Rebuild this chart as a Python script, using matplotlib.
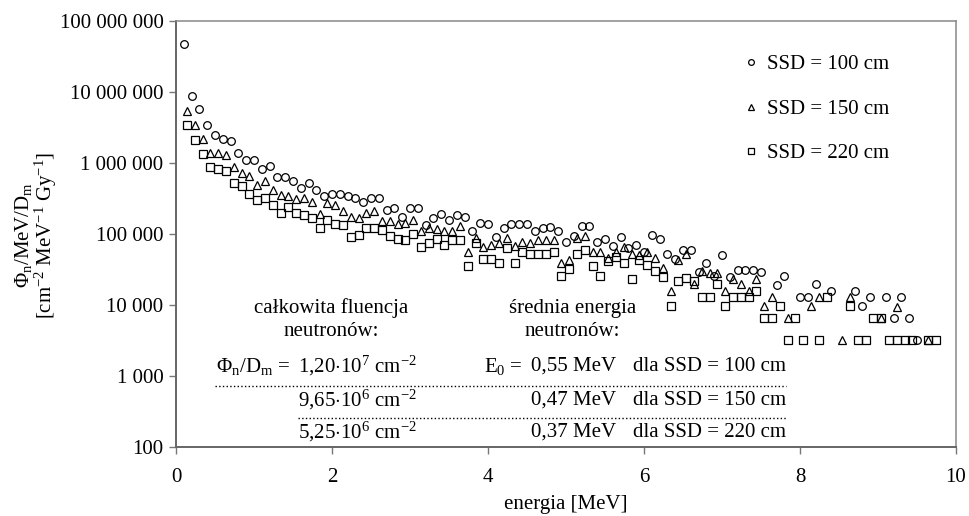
import numpy as np
import matplotlib
matplotlib.use('Agg')
import matplotlib.pyplot as plt
from matplotlib.ticker import FuncFormatter, FixedLocator

plt.rcParams['font.family'] = ['Liberation Serif', 'DejaVu Serif']
plt.rcParams['mathtext.fontset'] = 'custom'
plt.rcParams['mathtext.rm'] = 'Liberation Serif'
plt.rcParams['mathtext.it'] = 'Liberation Serif:italic'
plt.rcParams['font.size'] = 15

# energy bins [MeV], 0.1 ... 9.8
energy = np.round(np.arange(1, 99) * 0.1, 1)

# fluence per MeV per unit dose, SSD = 100 cm
ssd100 = [
    4.8e7, 8.8e6, 5.7e6, 3.4e6, 2.45e6, 2.2e6, 2.05e6, 1.4e6, 1.1e6, 1.1e6,
    8.3e5, 9.1e5, 6.4e5, 6.4e5, 5.5e5, 4.5e5, 5.2e5, 4.1e5, 3.4e5, 3.7e5,
    3.7e5, 3.4e5, 3.2e5, 2.8e5, 3.2e5, 3.2e5, 2.2e5, 2.3e5, 1.75e5, 2.3e5,
    2.3e5, 1.34e5, 1.7e5, 1.9e5, 1.6e5, 1.85e5, 1.75e5, 1.1e5, 1.45e5, 1.4e5,
    9.2e4, 1.2e5, 1.38e5, 1.38e5, 1.38e5, 1.1e5, 1.2e5, 1.25e5, 1.1e5, 7.8e4,
    9.5e4, 1.28e5, 1.28e5, 7.7e4, 8.6e4, 6.8e4, 9.0e4, 6.3e4, 7.0e4, 5.5e4,
    9.7e4, 8.4e4, 5.3e4, 4.4e4, 5.9e4, 6.0e4, 2.9e4, 3.9e4, 2.6e4, 5.1e4,
    2.5e4, 3.1e4, 3.1e4, 3.1e4, 2.9e4, None, 1.9e4, 2.6e4, None, 1.3e4,
    1.3e4, 1.95e4, None, 1.6e4, None, None, 1.6e4, 9.7e3, 1.3e4, None,
    1.3e4, 6.5e3, 1.3e4, 6.5e3, 3.2e3, None, None, None]

# SSD = 150 cm
ssd150 = [
    5.4e6, 3.4e6, 2.15e6, 1.37e6, 1.4e6, 1.3e6, 8.9e5, 7.2e5, 6.6e5, 4.9e5,
    5.6e5, 4.1e5, 3.5e5, 3.4e5, 3.1e5, 3.2e5, 2.8e5, 1.9e5, 2.7e5, 2.6e5,
    2.1e5, 1.75e5, 1.7e5, 2.0e5, 2.1e5, 1.5e5, 1.5e5, 1.4e5, 1.45e5, 1.55e5,
    1.1e5, 1.2e5, 1.18e5, 1.12e5, 1.12e5, 1.28e5, 5.6e4, 8.7e4, 6.6e4, 7.0e4,
    7.4e4, 8.7e4, 6.8e4, 7.8e4, 7.4e4, 8.3e4, 8.3e4, 8.3e4, 3.9e4, 4.3e4,
    8.7e4, 9.3e4, 5.5e4, 5.5e4, 4.6e4, 5.6e4, 6.6e4, 5.3e4, 5.0e4, 5.5e4,
    4.6e4, 3.3e4, 1.55e4, 4.3e4, 5.3e4, 2.0e4, 3.0e4, 2.85e4, 2.8e4, 1.6e4,
    2.3e4, 2.0e4, 1.6e4, 2.3e4, 9.7e3, 1.3e4, None, 6.5e3, None, None,
    9.7e3, 1.3e4, None, None, 3.2e3, 1.3e4, None, None, None, 6.5e3,
    None, 9.5e3, None, None, None, 3.2e3, None, None]

# SSD = 220 cm
ssd220 = [
    3.4e6, 2.1e6, 1.35e6, 8.7e5, 8.3e5, 7.6e5, 5.2e5, 4.7e5, 3.7e5, 3.0e5,
    3.2e5, 2.6e5, 2.0e5, 2.4e5, 2.0e5, 1.85e5, 1.7e5, 1.2e5, 1.55e5, 1.4e5,
    1.35e5, 9.2e4, 9.7e4, 1.2e5, 1.2e5, 1.15e5, 9.5e4, 8.5e4, 8.3e4, 1.0e5,
    6.6e4, 7.5e4, 8.5e4, 7.1e4, 8.3e4, 8.3e4, 3.5e4, 7.4e4, 4.4e4, 4.4e4,
    3.9e4, 6.3e4, 3.9e4, 5.6e4, 5.2e4, 5.2e4, 5.2e4, 5.6e4, 2.6e4, 3.2e4,
    5.3e4, 5.9e4, 3.5e4, 2.6e4, 4.1e4, 4.8e4, 3.9e4, 2.3e4, 4.3e4, 3.7e4,
    3.0e4, 2.5e4, 9.7e3, 2.2e4, 2.4e4, 2.2e4, 1.3e4, 1.3e4, 2.0e4, 9.7e3,
    1.3e4, 1.3e4, 1.3e4, 1.6e4, 6.5e3, 6.5e3, 9.7e3, 3.2e3, 6.5e3, 3.2e3,
    None, 3.2e3, 1.3e4, None, None, 9.7e3, 3.2e3, 3.2e3, 6.5e3, 6.5e3,
    3.2e3, 3.2e3, 3.2e3, 3.2e3, None, 3.2e3, 3.2e3, None]

labels = ['SSD = 100 cm', 'SSD = 150 cm', 'SSD = 220 cm']
markers = ['o', '^', 's']
yticks = [1e2, 1e3, 1e4, 1e5, 1e6, 1e7, 1e8]

fluence_rows = [r'1,20$\cdot$10$^{7}$ cm$^{-2}$',
                r'9,65$\cdot$10$^{6}$ cm$^{-2}$',
                r'5,25$\cdot$10$^{6}$ cm$^{-2}$']
mean_energy = ['0,55 MeV', '0,47 MeV', '0,37 MeV']
ssd_text = ['dla SSD = 100 cm', 'dla SSD = 150 cm', 'dla SSD = 220 cm']

fig = plt.figure(figsize=(9.69, 5.16), dpi=100)
ax = fig.add_axes([176 / 969, 1 - 447 / 516, 780 / 969, 426 / 516])

shift = [0.0, 0.04, 0.04]  # SSD 150/220 bins sit a hair right of SSD 100
sizes = [5.5, 6.0, 5.5]
for vals, m, lab, dx, ms in zip([ssd100, ssd150, ssd220], markers, labels, shift, sizes):
    y = np.array([np.nan if v is None else v for v in vals], dtype=float)
    ax.plot(energy + dx, y, ls='none', marker=m, ms=ms, mfc='none',
            mec='black', mew=0.9, label=lab)

ax.set_yscale('log')
ax.set_ylim(100, 1e8)
ax.set_xlim(0, 10)
ax.yaxis.set_major_locator(FixedLocator(yticks))
ax.yaxis.set_minor_locator(FixedLocator([]))
ax.yaxis.set_major_formatter(FuncFormatter(lambda v, p: f'{int(round(v)):,}'.replace(',', ' ')))
ax.set_xticks([0, 2, 4, 6, 8, 10])
ax.tick_params(axis='both', direction='out', length=5, width=1, color='#777777',
               labelsize=15, pad=4)
ax.tick_params(axis='x', pad=10)
for s in ax.spines.values():
    s.set_color('#888888')
    s.set_linewidth(1.1)
ax.spines['left'].set_color('#666666')
ax.spines['bottom'].set_color('#666666')
ax.spines['left'].set_linewidth(1.4)
ax.spines['bottom'].set_linewidth(1.4)

ax.set_xlabel('energia [MeV]', fontsize=15, labelpad=6)
fig.text(23 / 969, 1 - 235 / 516, r'Φ$_\mathrm{n}$/MeV/D$_\mathrm{m}$', rotation=90,
         ha='center', va='center', fontsize=15)
fig.text(46 / 969, 1 - 235 / 516, r'[cm$^{-2}$ MeV$^{-1}$ Gy$^{-1}$]', rotation=90,
         ha='center', va='center', fontsize=15)

leg = ax.legend(loc='upper left', bbox_to_anchor=(0.705, 0.965), frameon=False,
                fontsize=15, handlelength=0.6, handletextpad=0.45,
                labelspacing=1.2, markerscale=0.75)

# summary table inside the plot
T = ax.transAxes
ax.text(0.199, 0.326, 'całkowita fluencja', transform=T, ha='center', va='center')
ax.text(0.199, 0.271, 'neutronów:', transform=T, ha='center', va='center')
ax.text(0.508, 0.326, 'średnia energia', transform=T, ha='center', va='center')
ax.text(0.508, 0.271, 'neutronów:', transform=T, ha='center', va='center')

row_y = [0.190, 0.110, 0.035]
ax.text(0.146, row_y[0], r'Φ$_\mathrm{n}$/D$_\mathrm{m}$ =', transform=T, ha='right', va='center')
ax.text(0.444, row_y[0], r'E$_\mathrm{0}$ =', transform=T, ha='right', va='center')
for yy, fl, me, st in zip(row_y, fluence_rows, mean_energy, ssd_text):
    ax.text(0.156, yy, fl, transform=T, ha='left', va='center')
    ax.text(0.564, yy, me, transform=T, ha='right', va='center')
    ax.text(0.782, yy, st, transform=T, ha='right', va='center')

ax.plot([0.050, 0.782], [0.143, 0.143], transform=T, ls=':', color='black', lw=1)
ax.plot([0.156, 0.782], [0.068, 0.068], transform=T, ls=':', color='black', lw=1)

fig.savefig('out.png', dpi=100)
